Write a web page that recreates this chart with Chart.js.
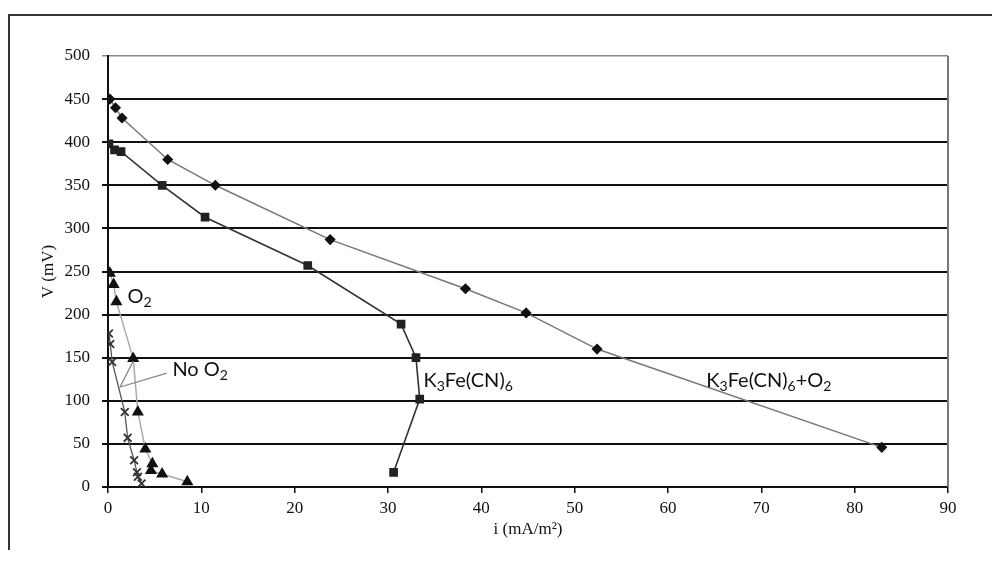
<!DOCTYPE html>
<html>
<head>
<meta charset="utf-8">
<script src="https://cdn.jsdelivr.net/npm/chart.js@4.4.0/dist/chart.umd.min.js"></script>
<style>
  body { margin: 0; background: #fff; }
  #wrap { position: relative; width: 992px; height: 572px; overflow: hidden; }
  #frame { position: absolute; left: 8px; top: 14px; width: 1000px; height: 534px;
           border-left: 2px solid #333; border-top: 2px solid #333; }
  canvas { position: absolute; left: 0; top: 0; }
</style>
</head>
<body>
<div id="wrap">
  <div id="frame"></div>
  <canvas id="chart" width="992" height="572"></canvas>
</div>
<script>
// K3Fe(CN)6 + O2 (diamonds)
var mixI = [0.2, 0.8, 1.5, 6.4, 11.5, 23.8, 38.3, 44.8, 52.4, 82.9];
var mixV = [450, 440, 428, 380, 350, 287, 230, 202, 160, 46];

// K3Fe(CN)6 (squares)
var fecnI = [0.1, 0.7, 1.4, 5.8, 10.4, 21.4, 31.4, 33.0, 33.4, 30.6];
var fecnV = [398, 391, 389, 350, 313, 257, 189, 150, 102, 17];

// O2 (triangles)
var o2I = [0.2, 0.6, 0.9, 2.7, 3.2, 4.0, 4.75, 4.6, 5.8, 8.5];
var o2V = [248, 235, 215, 149, 87, 44, 27, 19, 15, 6];

// No O2 (crosses)
var noO2I = [0.1, 0.25, 0.45, 1.8, 2.1, 2.8, 3.1, 3.2, 3.6];
var noO2V = [178, 166, 145, 87, 57, 31, 17, 12, 4];

var xTicks = [0, 10, 20, 30, 40, 50, 60, 70, 80, 90];
var yTicks = [0, 50, 100, 150, 200, 250, 300, 350, 400, 450, 500];

// in-plot labels: [text, subscript?] pieces, placed at data coords
var notes = [
    { i: 2.1, v: 221, parts: [['O'], ['2', true]] },
    { i: 6.9, v: 136, parts: [['No O'], ['2', true]] },
    { i: 33.8, v: 124, parts: [['K'], ['3', true], ['Fe(CN)'], ['6', true]] },
    { i: 64.1, v: 124, parts: [['K'], ['3', true], ['Fe(CN)'], ['6', true], ['+O'], ['2', true]] }
];

function toPoints(xs, ys) {
    return xs.map(function (x, k) { return { x: x, y: ys[k] }; });
}

var serif = "'Liberation Serif', 'DejaVu Serif', serif";
var sans = "Lato, 'Open Sans', sans-serif";

// labels, pointer line and right border
var extras = {
    id: 'extras',
    afterDatasetsDraw: function (chart) {
        var ctx = chart.ctx;
        var xs = chart.scales.x, ys = chart.scales.y;
        var area = chart.chartArea;
        ctx.save();

        ctx.strokeStyle = '#777';
        ctx.lineWidth = 2;
        ctx.beginPath();
        ctx.moveTo(area.right, area.top);
        ctx.lineTo(area.right, area.bottom);
        ctx.stroke();

        // pointer from "No O2"
        ctx.strokeStyle = '#888';
        ctx.lineWidth = 1.3;
        ctx.beginPath();
        ctx.moveTo(xs.getPixelForValue(6.3), ys.getPixelForValue(132));
        ctx.lineTo(xs.getPixelForValue(1.3), ys.getPixelForValue(116));
        ctx.lineTo(xs.getPixelForValue(2.7), ys.getPixelForValue(146));
        ctx.stroke();

        ctx.fillStyle = '#111';
        ctx.textBaseline = 'middle';
        ctx.textAlign = 'left';
        notes.forEach(function (n) {
            var x = xs.getPixelForValue(n.i);
            var y = ys.getPixelForValue(n.v);
            n.parts.forEach(function (p) {
                if (p[1]) {
                    ctx.font = '14px ' + sans;
                    ctx.fillText(p[0], x, y + 6);
                } else {
                    ctx.font = '20px ' + sans;
                    ctx.fillText(p[0], x, y);
                }
                x += ctx.measureText(p[0]).width;
            });
        });
        ctx.restore();
    }
};

new Chart(document.getElementById('chart'), {
    type: 'scatter',
    data: {
        datasets: [
            {
                label: 'K3Fe(CN)6+O2',
                data: toPoints(mixI, mixV),
                showLine: true,
                borderColor: '#777',
                borderWidth: 1.5,
                pointStyle: 'rectRot',
                pointRadius: 4.5,
                pointBackgroundColor: '#111',
                pointBorderColor: '#111'
            },
            {
                label: 'K3Fe(CN)6',
                data: toPoints(fecnI, fecnV),
                showLine: true,
                borderColor: '#333',
                borderWidth: 1.6,
                pointStyle: 'rect',
                pointRadius: 5,
                pointBackgroundColor: '#222',
                pointBorderColor: '#222'
            },
            {
                label: 'O2',
                data: toPoints(o2I, o2V),
                showLine: true,
                borderColor: '#aaa',
                borderWidth: 1.5,
                pointStyle: 'triangle',
                pointRadius: 5.5,
                pointBackgroundColor: '#111',
                pointBorderColor: '#111'
            },
            {
                label: 'No O2',
                data: toPoints(noO2I, noO2V),
                showLine: true,
                borderColor: '#555',
                borderWidth: 1.3,
                pointStyle: 'crossRot',
                pointRadius: 5.5,
                pointBorderWidth: 1.8,
                pointBorderColor: '#333'
            }
        ]
    },
    options: {
        responsive: false,
        animation: false,
        layout: { padding: { left: 0, top: 56, right: 44, bottom: 0 } },
        plugins: { legend: { display: false }, tooltip: { enabled: false } },
        scales: {
            x: {
                type: 'linear',
                min: 0,
                max: 90,
                afterFit: function (s) { s.height = 85; },
                afterBuildTicks: function (s) { s.ticks = xTicks.map(function (v) { return { value: v }; }); },
                ticks: { color: '#111', font: { family: serif, size: 17 }, padding: 5 },
                grid: { drawOnChartArea: false, color: '#111', tickLength: 6, lineWidth: 1.5 },
                border: { color: '#111', width: 2 },
                title: { display: true, text: 'i (mA/m²)', color: '#111',
                         font: { family: serif, size: 17 }, padding: { top: 4, bottom: 32 } }
            },
            y: {
                min: 0,
                max: 500,
                afterFit: function (s) { s.width = 108; },
                afterBuildTicks: function (s) { s.ticks = yTicks.map(function (v) { return { value: v }; }); },
                ticks: { color: '#111', font: { family: serif, size: 17 }, padding: 12 },
                grid: {
                    color: function (c) { return c.tick && c.tick.value === 500 ? '#888' : '#111'; },
                    lineWidth: function (c) { return c.tick && c.tick.value === 500 ? 1.5 : 2; },
                    tickLength: 6
                },
                border: { color: '#111', width: 2 },
                title: { display: true, text: 'V (mV)', color: '#111',
                         font: { family: serif, size: 17 }, padding: { top: 38 } }
            }
        }
    },
    plugins: [extras]
});
</script>
</body>
</html>
